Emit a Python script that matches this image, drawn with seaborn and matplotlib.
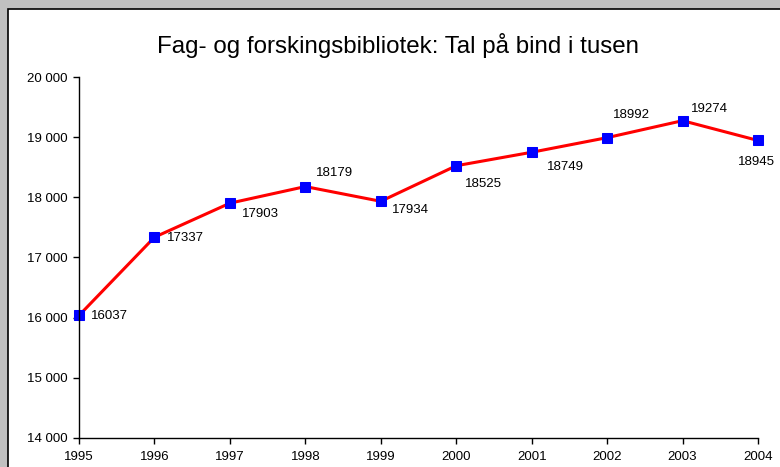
import matplotlib
matplotlib.use("Agg")
import matplotlib.pyplot as plt
from matplotlib.patches import Rectangle
from matplotlib.ticker import FuncFormatter
import seaborn as sns
import pandas as pd

# data
years = [1995, 1996, 1997, 1998, 1999, 2000, 2001, 2002, 2003, 2004]
volumes = [16037, 17337, 17903, 18179, 17934, 18525, 18749, 18992, 19274, 18945]
# label offsets in pixels (dx, dy) from each point
label_offsets = [(12, -1), (13, -1), (12, -11), (11, 14), (11, -9),
                 (9, -18), (15, -15), (6, 23), (8, 12), (-20, -22)]

df = pd.DataFrame({"year": years, "volume": volumes})

sns.set_style("white")
plt.rcParams["font.family"] = ["Liberation Sans", "DejaVu Sans"]
plt.rcParams["text.color"] = "black"
plt.rcParams["xtick.color"] = "black"
plt.rcParams["ytick.color"] = "black"

fig = plt.figure(figsize=(7.8, 4.67), dpi=100)
fig.patch.set_facecolor("#C0C0C0")
W, H = 780, 467
frame = Rectangle((8 / W, -0.01), 1.02, (H - 8.5) / H + 0.01,
                  transform=fig.transFigure, facecolor="white",
                  edgecolor="black", linewidth=1.2, zorder=-5)
fig.add_artist(frame)

ax = fig.add_axes([79 / W, (H - 438) / H, (758 - 79) / W, (438 - 77) / H])
ax.set_facecolor("none")
ax.set_zorder(2)

sns.lineplot(data=df, x="year", y="volume", ax=ax, color="#FF0000",
             linewidth=2.2, marker="s", markersize=7, clip_on=False,
             markerfacecolor="#0000FF", markeredgecolor="#0000FF")

for x, y, (dx, dy) in zip(years, volumes, label_offsets):
    ax.annotate(str(y), (x, y), xytext=(dx, dy), textcoords="offset pixels",
                ha="left", va="center", fontsize=9.5, color="black")

ax.set_xlim(1995, 2004)
ax.set_ylim(14000, 20000)
ax.set_xticks(years)
ax.set_yticks(range(14000, 20001, 1000))
ax.yaxis.set_major_formatter(FuncFormatter(lambda v, p: f"{int(v):,}".replace(",", " ")))
ax.set_xlabel("")
ax.set_ylabel("")
for s in ["top", "right"]:
    ax.spines[s].set_visible(False)
for s in ["left", "bottom"]:
    ax.spines[s].set_color("black")
    ax.spines[s].set_linewidth(1.0)
ax.tick_params(axis="both", direction="out", length=4, width=1, color="black",
               labelsize=9.5, bottom=True, left=True)
ax.tick_params(axis="y", pad=4)
ax.tick_params(axis="x", pad=5)

fig.text(398 / W, 1 - 46 / H, "Fag- og forskingsbibliotek: Tal på bind i tusen",
         ha="center", va="center", fontsize=17.4, color="black", zorder=3)

fig.savefig("out.png", dpi=100, facecolor=fig.get_facecolor())
